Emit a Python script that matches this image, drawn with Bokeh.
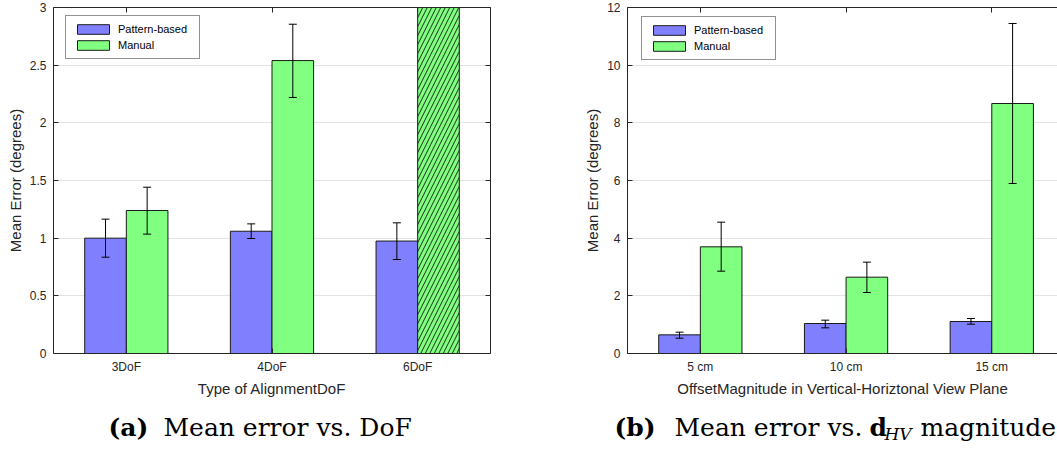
from bokeh.plotting import figure
from bokeh.models import ColumnDataSource, Whisker, TeeHead, LinearAxis, FixedTicker, Range1d, Grid
from bokeh.layouts import row, column
from bokeh.embed import file_html
from bokeh.resources import INLINE
from bokeh.core.properties import value

# ---------------- data ----------------
series_names = ["Pattern-based", "Manual"]
series_colors = ["#8080ff", "#80ff80"]

dof_categories = ["3DoF", "4DoF", "6DoF"]
dof_pattern_mean = [1.00, 1.06, 0.975]
dof_pattern_low = [0.835, 0.997, 0.815]
dof_pattern_high = [1.165, 1.124, 1.133]
dof_manual_mean = [1.24, 2.54, 3.0]          # 6DoF bar runs off the top of the axis
dof_manual_low = [1.035, 2.22, None]
dof_manual_high = [1.442, 2.855, None]
dof_manual_offscale = [False, False, True]
dof_y_ticks = [0, 0.5, 1, 1.5, 2, 2.5, 3]
dof_y_tick_labels = ["0", "0.5", "1", "1.5", "2", "2.5", "3"]

hv_categories = ["5 cm", "10 cm", "15 cm"]
hv_pattern_mean = [0.647, 1.04, 1.11]
hv_pattern_low = [0.53, 0.89, 1.017]
hv_pattern_high = [0.74, 1.156, 1.214]
hv_manual_mean = [3.70, 2.647, 8.67]
hv_manual_low = [2.855, 2.116, 5.896]
hv_manual_high = [4.555, 3.168, 11.445]
hv_manual_offscale = [False, False, False]
hv_y_ticks = [0, 2, 4, 6, 8, 10, 12]
hv_y_tick_labels = ["0", "2", "4", "6", "8", "10", "12"]

AX = "#262626"
SANS = "Liberation Sans"
SERIF = "DejaVu Serif"
BAR_W = 2 / 7


def style_axis(ax, labels=True):
    ax.axis_line_color = AX
    ax.axis_line_width = 1
    ax.major_tick_line_color = AX
    ax.major_tick_in = 5
    ax.major_tick_out = 0
    ax.minor_tick_line_color = None
    ax.major_label_text_font = SANS
    ax.major_label_text_font_size = "12px"
    ax.major_label_text_color = AX if labels else None
    ax.axis_label_text_font = SANS
    ax.axis_label_text_font_size = "15px"
    ax.axis_label_text_font_style = "normal"
    ax.axis_label_text_color = AX


def add_errors(p, xs, lows, highs):
    rows = [(x, l, h) for x, l, h in zip(xs, lows, highs) if l is not None]
    src = ColumnDataSource(dict(base=[r[0] for r in rows],
                                lower=[r[1] for r in rows],
                                upper=[r[2] for r in rows]))
    w = Whisker(source=src, base="base", lower="lower", upper="upper",
                dimension="height", line_color="black", line_width=1, level="overlay",
                upper_head=TeeHead(size=8, line_color="black", line_width=1),
                lower_head=TeeHead(size=8, line_color="black", line_width=1))
    p.add_layout(w)


def panel(cats, pm, pl, ph, mm, ml, mh, moff, yticks, ylabels, xlabel,
          width, border_left, border_right, x_end, right_axis, legend_xy):
    ymax = yticks[-1]
    p = figure(width=width, height=400, x_range=Range1d(0.5, x_end), y_range=Range1d(0, ymax),
               toolbar_location=None, output_backend="svg",
               min_border_left=border_left, min_border_right=border_right,
               min_border_top=7, min_border_bottom=47,
               x_axis_type=None, y_axis_type=None, outline_line_color=None,
               background_fill_color="white", border_fill_color="white")
    idx = list(range(1, len(cats) + 1))

    bottom = LinearAxis(ticker=FixedTicker(ticks=idx),
                        major_label_overrides={i: c for i, c in zip(idx, cats)},
                        axis_label=xlabel, major_label_standoff=6, axis_label_standoff=3)
    style_axis(bottom)
    p.add_layout(bottom, "below")
    left = LinearAxis(ticker=FixedTicker(ticks=yticks),
                      major_label_overrides={t: s for t, s in zip(yticks, ylabels)},
                      axis_label="Mean Error (degrees)", major_label_standoff=7,
                      axis_label_standoff=3)
    style_axis(left)
    p.add_layout(left, "left")
    top = LinearAxis(ticker=FixedTicker(ticks=idx))
    style_axis(top, labels=False)
    p.add_layout(top, "above")
    if right_axis:
        r = LinearAxis(ticker=FixedTicker(ticks=yticks))
        style_axis(r, labels=False)
        p.add_layout(r, "right")

    grid = Grid(dimension=1, ticker=FixedTicker(ticks=yticks),
                grid_line_color="#e3e3e3", grid_line_width=1)
    p.add_layout(grid)

    xp = [i - BAR_W / 2 for i in idx]
    xm = [i + BAR_W / 2 for i in idx]
    src_p = ColumnDataSource(dict(x=xp, top=pm))
    src_m = ColumnDataSource(dict(x=xm, top=mm,
                                  hatch=["/" if o else " " for o in moff]))
    p.vbar(x="x", top="top", width=BAR_W, source=src_p, fill_color=series_colors[0],
           line_color="#1a1a1a", line_width=1, legend_label=series_names[0])
    p.vbar(x="x", top="top", width=BAR_W, source=src_m, fill_color=series_colors[1],
           line_color="#1a1a1a", line_width=1, hatch_pattern="hatch", hatch_color="black",
           hatch_scale=9, hatch_weight=0.8, legend_label=series_names[1])
    add_errors(p, xp, pl, ph)
    add_errors(p, xm, ml, mh)

    lg = p.legend[0]
    lg.location = legend_xy
    lg.border_line_color = AX
    lg.border_line_width = 1
    lg.background_fill_color = "white"
    lg.background_fill_alpha = 1
    lg.label_text_font = SANS
    lg.label_text_font_size = "11px"
    lg.label_text_color = "black"
    lg.glyph_width = 40
    lg.glyph_height = 12
    lg.label_height = 12
    lg.label_width = 74
    lg.label_standoff = 5
    lg.padding = 7
    lg.spacing = 4
    lg.margin = 0
    return p


p1 = panel(dof_categories, dof_pattern_mean, dof_pattern_low, dof_pattern_high,
           dof_manual_mean, dof_manual_low, dof_manual_high, dof_manual_offscale,
           dof_y_ticks, dof_y_tick_labels, "Type of AlignmentDoF",
           540, 53, 50, 3.5, True, (12, 294))
p2 = panel(hv_categories, hv_pattern_mean, hv_pattern_low, hv_pattern_high,
           hv_manual_mean, hv_manual_low, hv_manual_high, hv_manual_offscale,
           hv_y_ticks, hv_y_tick_labels, "OffsetMagnitude in Vertical-Horiztonal View Plane",
           517, 87, 0, 3.451, False, (14, 293))

# ---------------- captions ----------------
cap = figure(width=1057, height=50, x_range=Range1d(0, 1057), y_range=Range1d(50, 0),
             toolbar_location=None, output_backend="svg", min_border=0,
             x_axis_type=None, y_axis_type=None, outline_line_color=None)
cap.grid.visible = False


def put(x, y, s, size="25px", style="normal"):
    cap.text(x=[x], y=[y], text=[s], text_font=value(SERIF), text_font_size=size,
             text_font_style=style, text_baseline="middle", text_align="left",
             text_color="black")


put(108, 27, "(a)", style="bold")
put(163, 27, "Mean error vs. DoF")
put(614, 27, "(b)", style="bold")
put(674, 27, "Mean error vs.")
put(869, 27, "d", style="bold")
put(884, 33, "HV", size="17px", style="italic")
put(920, 27, "magnitude")

layout = column(row(p1, p2), cap)
open("out.html", "w").write(file_html(layout, INLINE))
